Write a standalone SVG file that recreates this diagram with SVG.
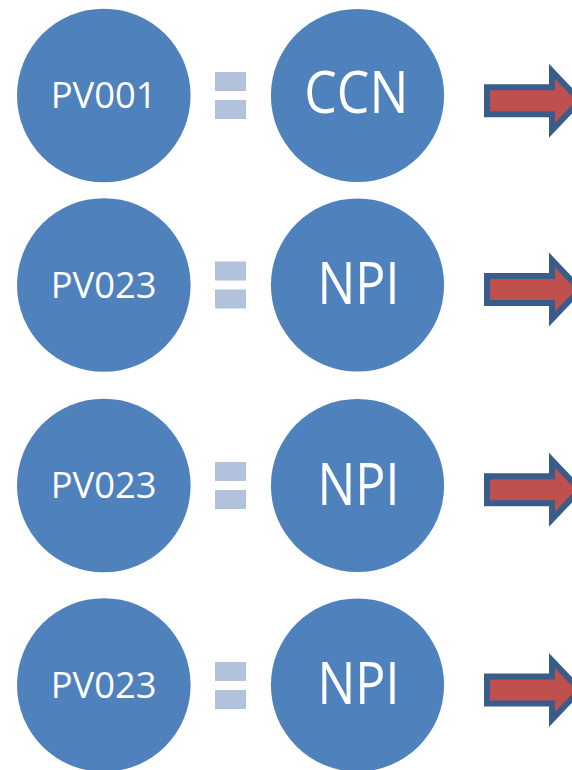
<svg xmlns="http://www.w3.org/2000/svg" width="572" height="770" viewBox="0 0 572 770">
<style>
.c{fill:#4F81BD}
.t{fill:#FFFFFF;font-family:"Open Sans","Noto Sans",sans-serif;text-anchor:middle}
.s{font-size:37px}
.b{font-size:58px}
.eq{fill:#B3C2DC}
.ar{fill:#C0504D;stroke:#385D8A;stroke-width:6;stroke-linejoin:miter}
</style>
<defs>
<path id="arrow" class="ar" d="M487,-13.5 L552,-13.5 L552,-29.5 L580,0 L552,29.5 L552,13.5 L487,13.5 Z"/>
<g id="eqs"><rect class="eq" x="215" y="-23.5" width="31" height="19"/><rect class="eq" x="215" y="4.5" width="31" height="19"/></g>
</defs>
<rect width="572" height="770" fill="#FFFFFF"/>
<g id="pv001"><circle class="c" cx="103.8" cy="95.5" r="86.8"/><text class="t s" x="103.7" y="108.3" textLength="106" lengthAdjust="spacingAndGlyphs">PV001</text></g>
<g id="ccn"><circle class="c" cx="357.5" cy="95.5" r="86.6"/><text class="t b" x="356.3" y="113.3" textLength="104" lengthAdjust="spacingAndGlyphs">CCN</text></g>
<g id="pv023a"><circle class="c" cx="103.8" cy="285" r="86.8"/><text class="t s" x="103.7" y="297.5" textLength="106" lengthAdjust="spacingAndGlyphs">PV023</text></g>
<g id="npia"><circle class="c" cx="357.5" cy="285" r="86.6"/><text class="t b" x="358.5" y="304" textLength="82" lengthAdjust="spacingAndGlyphs">NPI</text></g>
<g id="pv023b"><circle class="c" cx="103.8" cy="485.5" r="86.8"/><text class="t s" x="103.7" y="498.3" textLength="106" lengthAdjust="spacingAndGlyphs">PV023</text></g>
<g id="npib"><circle class="c" cx="357.5" cy="485.5" r="86.6"/><text class="t b" x="358.5" y="504.5" textLength="82" lengthAdjust="spacingAndGlyphs">NPI</text></g>
<g id="pv023c"><circle class="c" cx="103.8" cy="685" r="86.8"/><text class="t s" x="103.7" y="698" textLength="106" lengthAdjust="spacingAndGlyphs">PV023</text></g>
<g id="npic"><circle class="c" cx="357.5" cy="685" r="86.6"/><text class="t b" x="358.5" y="704" textLength="82" lengthAdjust="spacingAndGlyphs">NPI</text></g>
<g id="equals">
<use href="#eqs" y="95.5"/>
<use href="#eqs" y="285"/>
<use href="#eqs" y="485.5"/>
<use href="#eqs" y="685.5"/>
</g>
<g id="connectors">
<use href="#arrow" y="100.8"/>
<use href="#arrow" y="289.5"/>
<use href="#arrow" y="489.7"/>
<use href="#arrow" y="690"/>
</g>
</svg>
